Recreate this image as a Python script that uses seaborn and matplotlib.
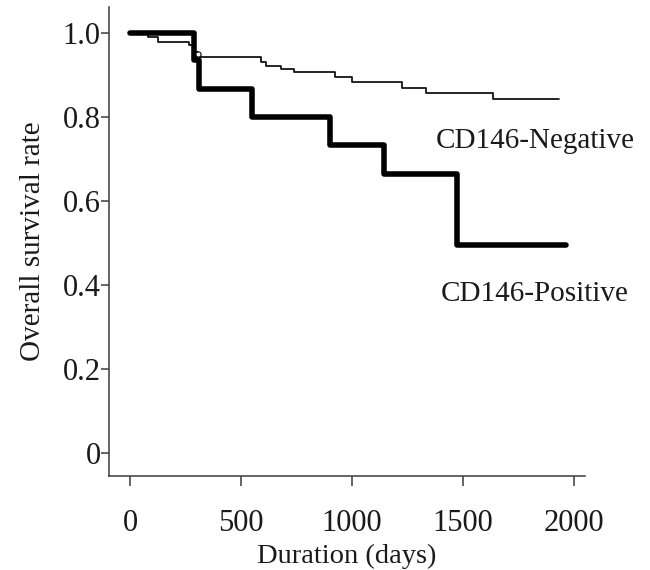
import numpy as np
import pandas as pd
import seaborn as sns
import matplotlib
matplotlib.use('Agg')
import matplotlib.pyplot as plt

# Kaplan-Meier steps (days, survival)
pos_days = [0, 288, 308, 550, 903, 1146, 1472, 1965]
pos_surv = [1.0, 0.935, 0.867, 0.80, 0.733, 0.665, 0.494, 0.494]

neg_days = [0, 80, 125, 265, 290, 305, 590, 610, 680, 740, 925, 1000, 1225, 1335, 1635, 1935]
neg_surv = [1.0, 0.99, 0.978, 0.970, 0.955, 0.943, 0.930, 0.922, 0.915, 0.907,
            0.895, 0.882, 0.868, 0.858, 0.843, 0.843]

# censored mark on the negative curve
cens_days = [304]
cens_surv = [0.949]

x_ticks = [0, 500, 1000, 1500, 2000]
y_ticks = [0, 0.2, 0.4, 0.6, 0.8, 1.0]
y_tick_labels = ['0', '0.2', '0.4', '0.6', '0.8', '1.0']

sns.set_style('ticks')
plt.rcParams['font.family'] = ['Liberation Serif', 'DejaVu Serif']
ink = '#1a1a1a'
axis_col = '#3a3a3a'

fig = plt.figure(figsize=(6.5, 5.7), dpi=100)
ax = fig.add_axes([0.168, 0.165, 0.732, 0.823])

df_pos = pd.DataFrame({'days': pos_days, 'surv': pos_surv})
df_neg = pd.DataFrame({'days': neg_days, 'surv': neg_surv})

sns.lineplot(data=df_neg, x='days', y='surv', ax=ax, color='black', linewidth=1.2,
             drawstyle='steps-post', estimator=None, sort=False)
sns.lineplot(data=df_pos, x='days', y='surv', ax=ax, color='black', linewidth=4.0,
             drawstyle='steps-post', estimator=None, sort=False)
sns.scatterplot(x=cens_days, y=cens_surv, ax=ax, s=14, facecolor='white',
                edgecolor='black', linewidth=0.8, zorder=5)

ax.set_xlim(-95, 2051)
ax.set_ylim(-0.055, 1.062)
ax.set_xticks(x_ticks)
ax.set_xticklabels([str(t) for t in x_ticks])
ax.set_yticks(y_ticks)
ax.set_yticklabels(y_tick_labels)

ax.tick_params(axis='x', length=7, width=1.1, color=axis_col, labelsize=22,
               labelcolor=ink, pad=17)
ax.tick_params(axis='y', length=6, width=1.1, color=axis_col, labelsize=22,
               labelcolor=ink, pad=0)
for side in ['top', 'right']:
    ax.spines[side].set_visible(False)
for side in ['left', 'bottom']:
    ax.spines[side].set_color(axis_col)
    ax.spines[side].set_linewidth(1.1)

ax.set_xlabel('Duration (days)', fontsize=20.5, color=ink, labelpad=4)
ax.set_ylabel('Overall survival rate', fontsize=21, color=ink, labelpad=12)

ax.text(1379, 0.742, 'CD146-Negative', fontsize=21, color=ink, va='center', ha='left')
ax.text(1401, 0.379, 'CD146-Positive', fontsize=21, color=ink, va='center', ha='left')

fig.savefig('out.png', dpi=100)
